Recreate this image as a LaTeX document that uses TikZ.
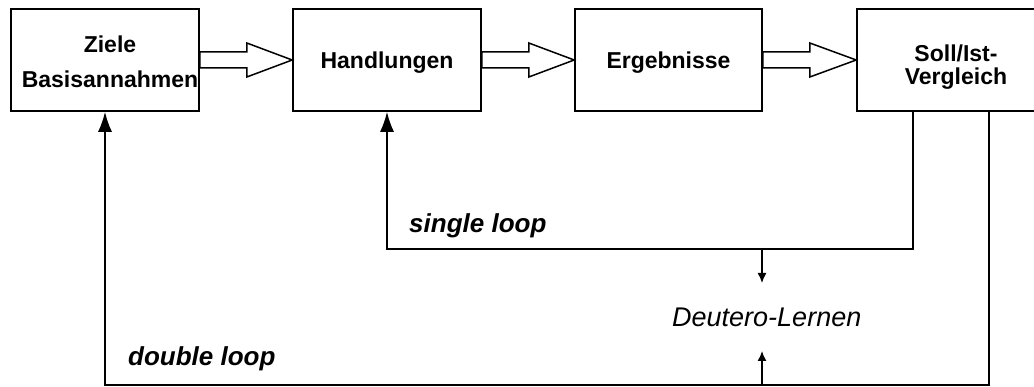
\documentclass[tikz,border=0pt]{standalone}
\usepackage{fontspec}
\setmainfont{Liberation Sans}
\usetikzlibrary{calc,arrows.meta}

\tikzset{
  stage/.style={draw=black, line width=1.6pt, minimum width=188pt, minimum height=102pt,
    inner sep=0pt, align=center, text height=23pt, text depth=5pt,
    font=\bfseries\fontsize{23}{35}\selectfont},
  stagetext/.style={inner sep=0pt, align=center, font=\bfseries\fontsize{23}{#1}\selectfont},
  hollowarrow/.style={draw=black, fill=white, line width=1.5pt, line join=miter},
  fb/.style={draw=black, line width=1.6pt, -{Latex[length=20pt,width=14pt]}},
  fbsmall/.style={draw=black, line width=1.4pt, -{Latex[length=10pt,width=9pt]}},
  looplabel/.style={anchor=base west, inner sep=0pt, font=\bfseries\itshape\fontsize{26}{26}\selectfont},
  meta/.style={anchor=base west, inner sep=0pt, font=\itshape\fontsize{27}{27}\selectfont}
}

% open block arrow from the east side of one stage to the west side of the next
\newcommand{\blockarrow}[2]{%
  \draw[hollowarrow] ($(#1.east)+(0,-8)$) -- ($(#1.east)+(47,-8)$) -- ($(#1.east)+(47,-17)$)
    -- (#2.west) -- ($(#1.east)+(47,17)$) -- ($(#1.east)+(47,8)$) -- ($(#1.east)+(0,8)$) -- cycle;}

\begin{document}
\begin{tikzpicture}[x=1pt, y=-1pt]
  \useasboundingbox (0,0) rectangle (1034,387);
  \clip (0,0) rectangle (1034,387);

  % process stages
  \node[stage] (b1) at (105,60) {};
  \node[stagetext=35pt] (t1) at ($(b1.center)+(5,2)$) {Ziele\\Basisannahmen};
  \node[stage] (b2) at (387,60) {Handlungen};
  \node[stage, minimum width=187pt] (b3) at (668.5,60) {Ergebnisse};
  \node[stage, minimum width=198pt] (b4) at (956,60) {};
  \node[stagetext=23pt] (t4) at ($(b4.center)+(0,7.5)$) {Soll/Ist-\\Vergleich};

  \blockarrow{b1}{b2}
  \blockarrow{b2}{b3}
  \blockarrow{b3}{b4}

  % feedback loops
  \coordinate (sxr) at (913,249);
  \coordinate (dxr) at (989,385);
  \draw[fb] (b4.south -| sxr) -- (sxr) -| (b2.south);
  \draw[fb] (b4.south -| dxr) -- (dxr) -| (b1.south);

  \node[looplabel] (sl) at (409,233) {single loop};
  \node[looplabel] (dl) at (128,366) {double loop};

  % learning about learning
  \node[meta] (deu) at (672,327) {Deutero-Lernen};
  \coordinate (dtop) at (762,249);
  \coordinate (dtopend) at (762,283);
  \coordinate (dbot) at (762,385);
  \coordinate (dbotend) at (762,351);
  \draw[fbsmall] (dtop) -- (dtopend);
  \draw[fbsmall] (dbot) -- (dbotend);
\end{tikzpicture}
\end{document}
